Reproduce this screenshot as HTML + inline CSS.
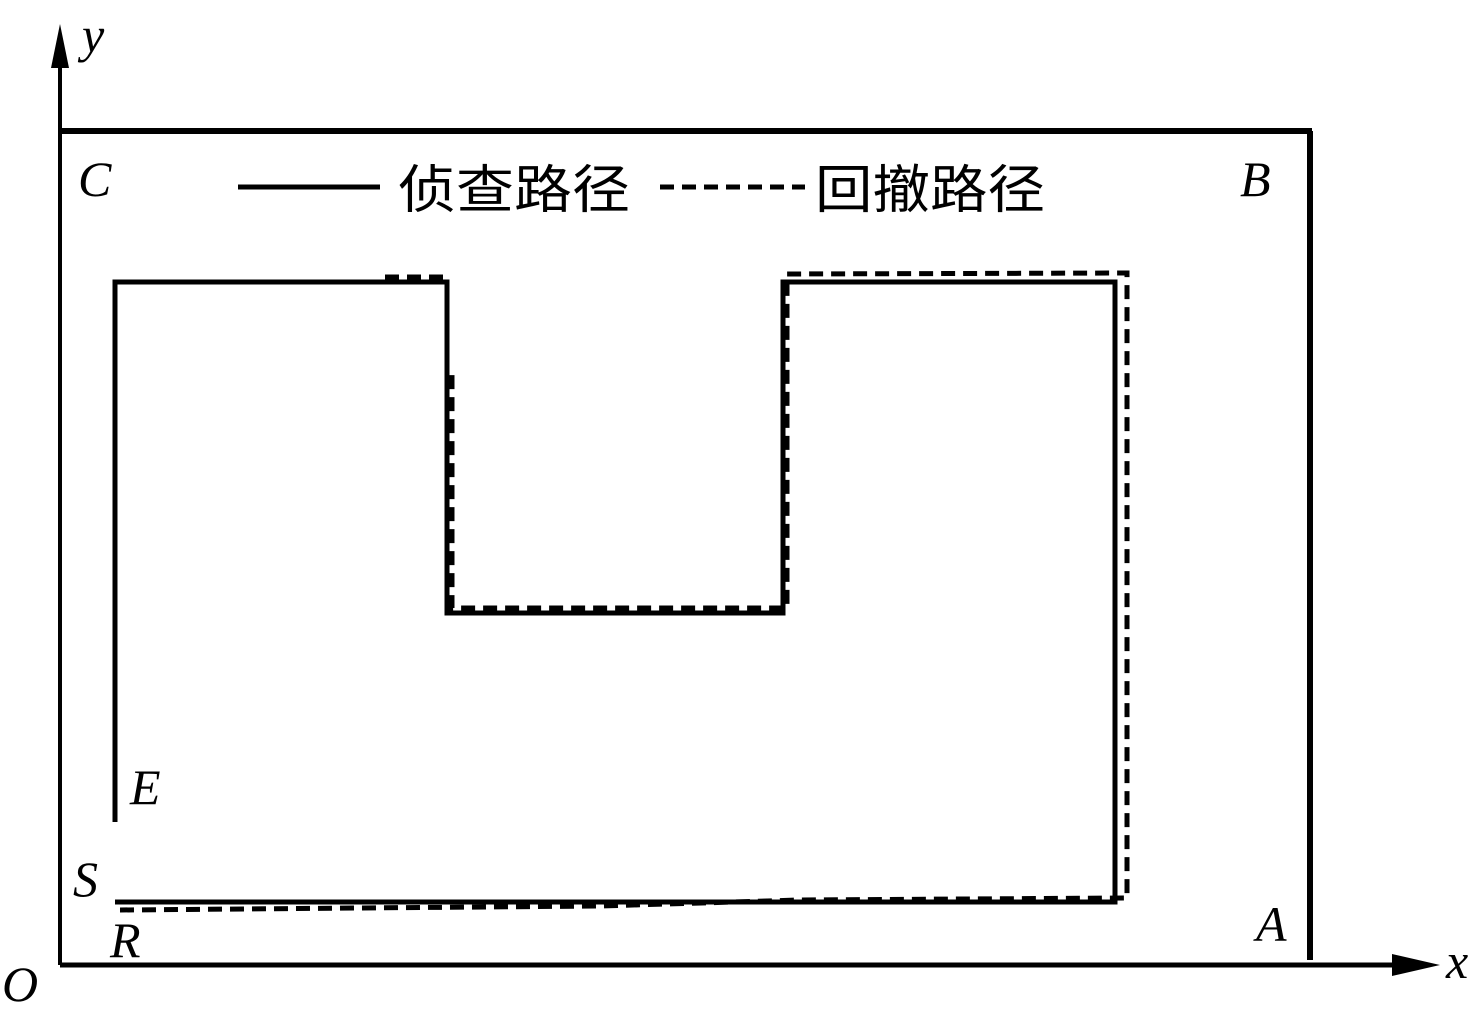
<!DOCTYPE html>
<html><head><meta charset="utf-8"><style>
html,body{margin:0;padding:0;background:#fff;}
svg{display:block;}
.l{font-family:"Liberation Serif",serif;font-style:italic;font-size:50px;fill:#000;}
.c{font-family:"Liberation Sans","Noto Sans CJK SC",sans-serif;font-size:52px;fill:#000;}
</style></head><body>
<svg width="1475" height="1020" viewBox="0 0 1475 1020" xmlns="http://www.w3.org/2000/svg">
<g stroke="#000" fill="none">
<line x1="60" y1="965" x2="60" y2="60" stroke-width="4"/>
<line x1="60" y1="965" x2="1400" y2="965" stroke-width="5"/>
<line x1="58" y1="131" x2="1312" y2="131" stroke-width="6"/>
<line x1="1310" y1="131" x2="1310" y2="960" stroke-width="6"/>
<polyline points="115,822 115,282 447,282 447,613 783,613 783,282 1115,282 1115,902 115,902" stroke-width="5"/>
<polyline points="120,910 600,906 800,900 1127,898 1127,273 787,274 787,608 452,608 452,368" stroke-width="5" stroke-dasharray="14,8"/>
<line x1="385" y1="277" x2="445" y2="277" stroke-width="5" stroke-dasharray="14,8"/>
<line x1="238" y1="187" x2="380" y2="187" stroke-width="5"/>
<line x1="660" y1="187" x2="805" y2="187" stroke-width="5" stroke-dasharray="14,8"/>
</g>
<polygon points="60,24 51,68 69,68" fill="#000"/>
<polygon points="1440,965 1392,954 1392,976" fill="#000"/>
<text class="c" x="398" y="208" textLength="232" lengthAdjust="spacingAndGlyphs">侦查路径</text>
<text class="c" x="815" y="208" textLength="230" lengthAdjust="spacingAndGlyphs">回撤路径</text>
<text class="l" x="82" y="52">y</text>
<text class="l" x="78" y="196">C</text>
<text class="l" x="1240" y="196">B</text>
<text class="l" x="130" y="804">E</text>
<text class="l" x="73" y="896">S</text>
<text class="l" x="110" y="957">R</text>
<text class="l" x="1256" y="941">A</text>
<text class="l" x="2" y="1001">O</text>
<text class="l" x="1446" y="978">x</text>
</svg>
</body></html>
